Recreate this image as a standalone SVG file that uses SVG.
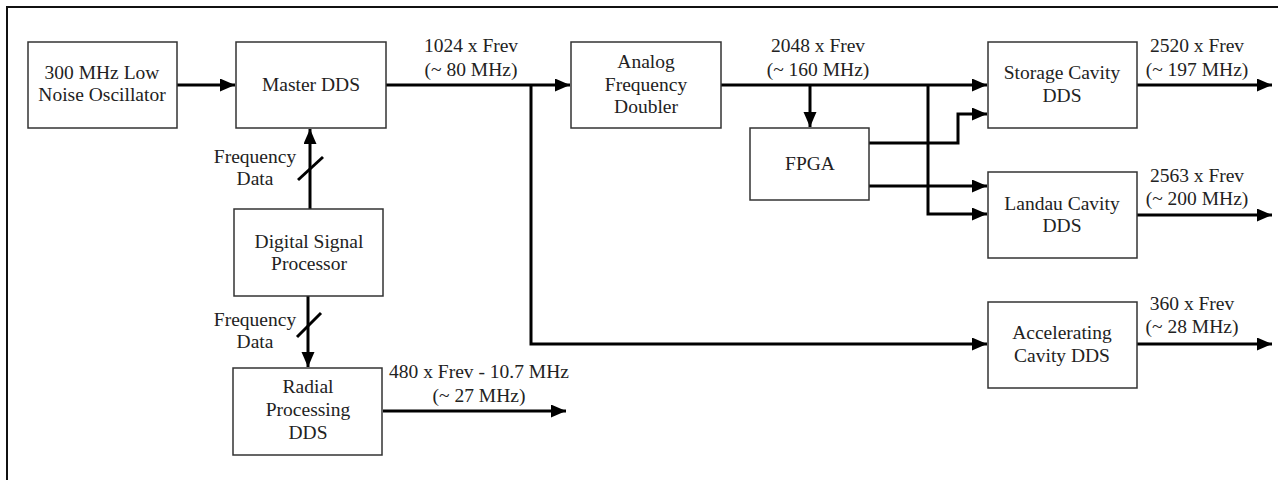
<svg xmlns="http://www.w3.org/2000/svg" width="1278" height="480" viewBox="0 0 1278 480">
<style>
.box{fill:#fff;stroke:#333;stroke-width:1.5}
.t{font-family:'Liberation Serif','Times New Roman','DejaVu Serif',serif;font-size:19.5px;fill:#222;text-anchor:middle}
.w{fill:none;stroke:#000;stroke-width:3}
.a{marker-end:url(#ah)}
</style>
<defs>
<marker id="ah" markerUnits="userSpaceOnUse" markerWidth="16" markerHeight="14" refX="15" refY="6.5" orient="auto">
<path d="M0,0 L15,6.5 L0,13 z" fill="#000"/>
</marker>
</defs>
<rect width="1278" height="480" fill="#fff"/>
<path d="M7,480 V7 H1278" fill="none" stroke="#111" stroke-width="2"/>

<g id="connectors">
<path class="w a" d="M177,85 H235"/>
<path class="w a" d="M386,85 H570"/>
<path class="w a" d="M531,85 V344 H987"/>
<path class="w a" d="M721,85 H987"/>
<path class="w a" d="M810,85 V127"/>
<path class="w a" d="M928,85 V214 H987"/>
<path class="w a" d="M869,143 H958 V114 H987"/>
<path class="w a" d="M869,186 H987"/>
<path class="w a" d="M1137,85 H1272"/>
<path class="w a" d="M1137,215 H1272"/>
<path class="w a" d="M1137,344 H1272"/>
<path class="w a" d="M310,209 V129"/>
<path class="w a" d="M308,296 V367"/>
<path class="w a" d="M383,411 H566"/>
<path class="w" d="M298,180 L323,157"/>
<path class="w" d="M297,337 L321,313"/>
<text class="t" x="471" y="52" font-family="Liberation Serif, serif">1024 x Frev</text>
<text class="t" x="471" y="76">(~ 80 MHz)</text>
<text class="t" x="818" y="52">2048 x Frev</text>
<text class="t" x="818" y="76">(~ 160 MHz)</text>
<text class="t" x="1197" y="52">2520 x Frev</text>
<text class="t" x="1197" y="76">(~ 197 MHz)</text>
<text class="t" x="1197" y="182">2563 x Frev</text>
<text class="t" x="1197" y="205">(~ 200 MHz)</text>
<text class="t" x="1192" y="310">360 x Frev</text>
<text class="t" x="1192" y="333">(~ 28 MHz)</text>
<text class="t" x="479" y="378">480 x Frev - 10.7 MHz</text>
<text class="t" x="479" y="402">(~ 27 MHz)</text>
<text class="t" x="255" y="163">Frequency</text>
<text class="t" x="255" y="185">Data</text>
<text class="t" x="255" y="326">Frequency</text>
<text class="t" x="255" y="348">Data</text>
</g>

<g id="oscillator">
<rect class="box" x="28" y="42" width="149" height="86"/>
<text class="t" x="102" y="79">300 MHz Low</text>
<text class="t" x="102" y="101">Noise Oscillator</text>
</g>
<g id="master-dds">
<rect class="box" x="236" y="42" width="150" height="86"/>
<text class="t" x="311" y="91">Master DDS</text>
</g>
<g id="doubler">
<rect class="box" x="571" y="42" width="150" height="86"/>
<text class="t" x="646" y="68">Analog</text>
<text class="t" x="646" y="91">Frequency</text>
<text class="t" x="646" y="113">Doubler</text>
</g>
<g id="fpga">
<rect class="box" x="750" y="128" width="119" height="72"/>
<text class="t" x="810" y="170">FPGA</text>
</g>
<g id="storage-dds">
<rect class="box" x="988" y="42" width="149" height="86"/>
<text class="t" x="1062" y="79">Storage Cavity</text>
<text class="t" x="1062" y="102">DDS</text>
</g>
<g id="landau-dds">
<rect class="box" x="988" y="172" width="149" height="86"/>
<text class="t" x="1062" y="210">Landau Cavity</text>
<text class="t" x="1062" y="232">DDS</text>
</g>
<g id="accelerating-dds">
<rect class="box" x="988" y="302" width="149" height="86"/>
<text class="t" x="1062" y="339">Accelerating</text>
<text class="t" x="1062" y="362">Cavity DDS</text>
</g>
<g id="dsp">
<rect class="box" x="234" y="209" width="149" height="87"/>
<text class="t" x="309" y="248">Digital Signal</text>
<text class="t" x="309" y="270">Processor</text>
</g>
<g id="radial-dds">
<rect class="box" x="233" y="368" width="149" height="87"/>
<text class="t" x="308" y="393">Radial</text>
<text class="t" x="308" y="416">Processing</text>
<text class="t" x="308" y="439">DDS</text>
</g>
</svg>
